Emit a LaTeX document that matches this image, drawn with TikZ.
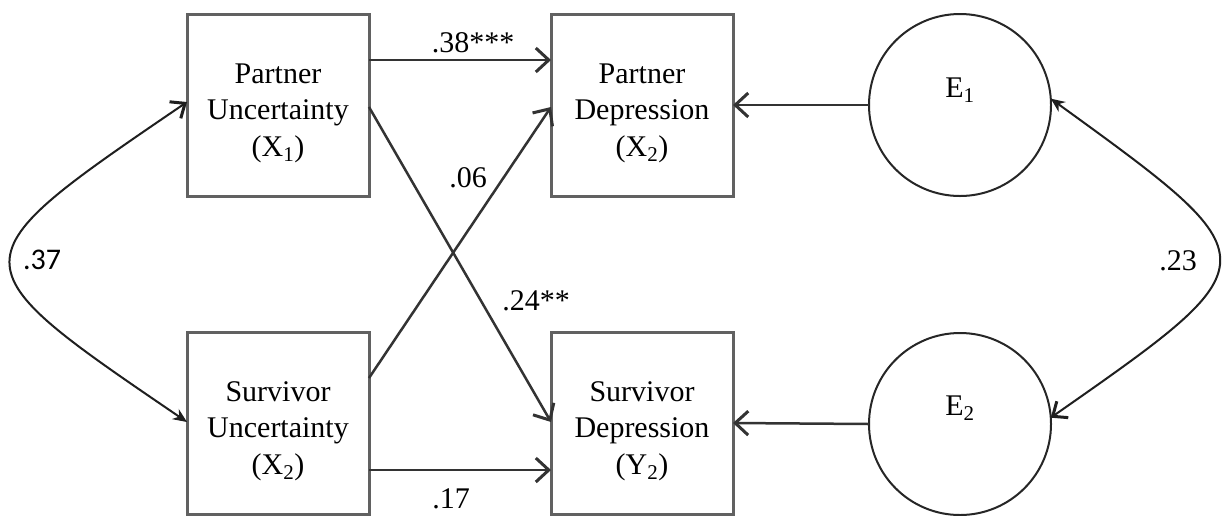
\documentclass[tikz,border=0pt]{standalone}
\usepackage{fontspec}
\setmainfont{Liberation Serif}
\newfontfamily\calfont{Carlito}
\usetikzlibrary{arrows.meta}
\tikzset{
  box/.style={draw=black!62, line width=3pt, minimum width=182pt, minimum height=182pt, inner sep=0pt, outer sep=0pt},
  boxtext/.style={align=center, font=\fontsize{30}{36.5}\selectfont, text=black},
  errc/.style={draw=black!85, line width=2pt, circle, minimum size=182pt, inner sep=0pt, outer sep=0pt},
  lab/.style={font=\fontsize{30}{34}\selectfont, text=black, inner sep=0pt},
  path/.style={draw=black!80, line width=2.5pt, -{Straight Barb[length=13pt,width=24pt,line width=3pt]}},
  cov/.style={draw=black!88, line width=2pt},
}
\begin{document}
\begin{tikzpicture}[x=1pt,y=-1pt]
\useasboundingbox[fill=white] (0,0) rectangle (1222,515);
% boxes
\node[box, label={[boxtext,yshift=-8pt]center:Partner\\Uncertainty\\(X\textsubscript{1})}] (b1) at (278,105) {};
\node[box, label={[boxtext,yshift=-8pt]center:Survivor\\Uncertainty\\(X\textsubscript{2})}] (b2) at (278,423) {};
\node[box, label={[boxtext,yshift=-8pt]center:Partner\\Depression\\(X\textsubscript{2})}] (b3) at (642,105) {};
\node[box, label={[boxtext,yshift=-8pt]center:Survivor\\Depression\\(Y\textsubscript{2})}] (b4) at (642,423) {};
% error circles
\node[errc, label={[lab,yshift=15pt]center:E\textsubscript{1}}] (e1) at (960,105) {};
\node[errc, label={[lab,yshift=16pt]center:E\textsubscript{2}}] (e2) at (960,424) {};
% paths
\draw[path] ([yshift=45pt]b1.east) -- ([yshift=45pt]b3.west);
\draw[path] ([yshift=-2pt]b1.east) -- ([yshift=1pt]b4.west);
\draw[path] ([yshift=45pt]b2.east) -- ([yshift=-2pt]b3.west);
\draw[path] ([yshift=-47pt]b2.east) -- ([yshift=-47pt]b4.west);
\draw[path] (e1.west) -- (b3.east);
\draw[path] (e2.west) -- (b4.east);
% covariances
\draw[cov, {Straight Barb[length=12pt,width=20pt,line width=3pt]}-{Stealth[length=14pt,width=12pt]}]
  ([yshift=3pt]b1.west) .. controls (-48,262) .. ([yshift=1pt]b2.west);
\draw[cov, {Stealth[length=14pt,width=12pt]}-{Straight Barb[length=12pt,width=20pt,line width=3pt]}]
  (e1.4) .. controls (1275,261) .. (e2.4);
% labels
\node[lab] (l38) at (473,43) {.38***};
\node[lab] (l06) at (468,178) {.06};
\node[lab] (l24) at (536,301) {.24**};
\node[lab] (l17) at (451,499) {.17};
\node[lab,font=\calfont\fontsize{30}{34}\selectfont] (l37) at (42,260) {.37};
\node[lab] (l23) at (1178,261) {.23};
\end{tikzpicture}
\end{document}
